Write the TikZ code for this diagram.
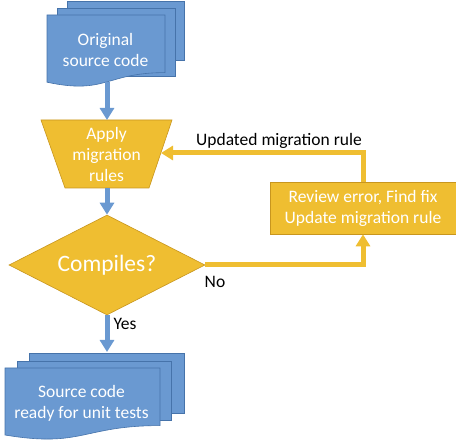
\documentclass[tikz,border=0pt]{standalone}
\usepackage{fontspec}
\setmainfont{Carlito}
\usetikzlibrary{arrows.meta,shapes.geometric}
\definecolor{blueC}{RGB}{106,153,209}
\definecolor{blueD}{RGB}{70,115,170}
\definecolor{goldC}{RGB}{239,190,49}
\definecolor{goldD}{RGB}{200,150,30}
\tikzset{
  page/.style={fill=blueC,draw=blueD,line width=0.6pt},
  goldshape/.style={fill=goldC,draw=goldD,line width=0.6pt},
  wtxt/.style={text=white,align=center,inner sep=0pt,font=\fontsize{17.5}{21}\selectfont},
  lbl/.style={text=black,inner sep=0pt,font=\fontsize{17.5}{21}\selectfont},
  bluearrow/.style={draw=blueC,line width=5pt,-{Triangle[width=14pt,length=12pt]}},
  goldarrow/.style={draw=goldC,line width=5pt,-{Triangle[width=14pt,length=12pt]}},
}
\begin{document}
\begin{tikzpicture}[x=1pt,y=-1pt]
\useasboundingbox (0,0) rectangle (456,441);
% top multi-document
\draw[page] (67,1) rectangle (184,60);
\draw[page] (57,8) rectangle (175,76);
\draw[page] (47,15) -- (165,15) -- (165,72.6) .. controls (106,72.6) and (106,94.9) .. (47,82.2) -- cycle;
\node[wtxt] (orig) at (105.5,50) {Original\\source code};
\coordinate (origS) at (107,82);
% trapezoid
\draw[goldshape] (41,120) -- (172,120) -- (149,188) -- (65,188) -- cycle;
\node[wtxt] (apply) at (106.5,154) {Apply\\migration\\rules};
\coordinate (trapT) at (107,120);
\coordinate (trapB) at (107,188);
\coordinate (trapR) at (161,153);
% diamond
\node[diamond,goldshape,minimum width=196pt,minimum height=100pt,inner sep=0pt,aspect=1.96,
      text=white,font=\fontsize{23.5}{28}\selectfont] (dia) at (107,265) {Compiles?};
% review box
\node[rectangle,goldshape,minimum width=186pt,minimum height=52pt,inner sep=0pt,
      text=white,align=center,font=\fontsize{17.5}{21}\selectfont] (rev) at (363,208)
      {Review error, Find fix\\Update migration rule};
% bottom multi-document
\draw[page] (29,353) rectangle (184,413);
\draw[page] (17,361) rectangle (171,420);
\draw[page] (5,368) -- (160,368) -- (160,425.6) .. controls (82.5,425.6) and (82.5,448) .. (5,435) -- cycle;
\node[wtxt] (res) at (81.5,403) {Source code\\ready for unit tests};
\coordinate (resT) at (107,352);
% connectors
\draw[bluearrow] (origS) -- (trapT);
\draw[bluearrow] (trapB) -- (dia.north);
\draw[bluearrow] (dia.south) -- (resT);
\draw[goldarrow] (dia.east) -| (rev.south);
\draw[goldarrow] (rev.north) |- (trapR);
% labels
\node[lbl] (no) at (215,282) {No};
\node[lbl] (yes) at (125,324) {Yes};
\node[lbl] (upd) at (279,141) {Updated migration rule};
\end{tikzpicture}
\end{document}
